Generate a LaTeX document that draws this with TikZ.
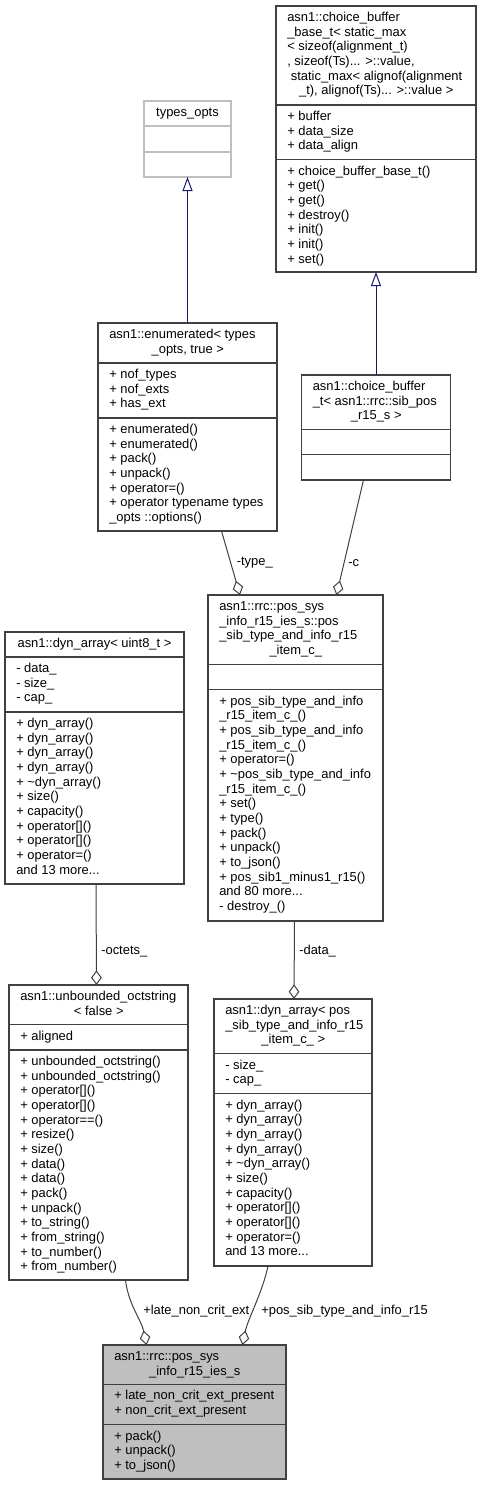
\documentclass[tikz,border=0pt]{standalone}
\usepackage{fontspec}
\setmainfont{Liberation Sans}
\usetikzlibrary{arrows.meta}

\definecolor{edgegray}{RGB}{64,64,64}
\definecolor{palegray}{RGB}{191,191,191}
\definecolor{inhblue}{RGB}{25,25,112}

\tikzset{
  every node/.style={font=\fontsize{9.7}{11}\selectfont},
  cls/.style={draw=edgegray, line width=0.8pt, fill=white, inner sep=0pt, outer sep=0pt},
  memb/.style={anchor=north west, inner sep=0pt, align=left},
  clsname/.style={anchor=north, inner sep=0pt},
  sep/.style={draw=edgegray, line width=0.8pt},
  inherit/.style={draw=inhblue, line width=0.75pt, -{Triangle[open,length=10.5pt,width=7.5pt]}},
  aggr/.style={draw=edgegray, line width=0.75pt, -{Diamond[open,length=11pt,width=8pt]}},
  lbl/.style={anchor=west, inner sep=0pt},
}

\begin{document}
\begin{tikzpicture}[x=0.75pt,y=0.75pt,yscale=-1,xscale=1]
   	\useasboundingbox (0,0) rectangle (481,1485);
   	
   	% types_opts
   	\node[cls, draw=palegray, minimum width=65.25pt, minimum height=57pt] (topts) at (187.5,139) {};
   	\draw[sep, draw=palegray] (144,126) -- (231,126);
   	\draw[sep, draw=palegray] (144,152) -- (231,152);
   	\node[clsname] (toptsT) at (187.5,106) {\strut types\_opts};
   	
   	% choice_buffer_base_t
   	\node[cls, minimum width=150pt, minimum height=199.5pt] (cbb) at (376,139) {};
   	\draw[sep] (276,105) -- (476,105);
   	\draw[sep] (276,159.7) -- (476,159.7);
   	\node[memb] (cbbT) at (287,11) {\strut asn1::choice\_buffer\\\_base\_t< static\_max\\< sizeof(alignment\_t)\\, sizeof(Ts)... >::value,\\~static\_max< alignof(alignment\\\makebox[133.5pt]{\_t), alignof(Ts)... >::value >}};
   	\node[memb] (cbbA) at (287,110) {\strut + buffer\\+ data\_size\\+ data\_align};
   	\node[memb] (cbbM) at (287,164.7) {\strut + choice\_buffer\_base\_t()\\+ get()\\+ get()\\+ destroy()\\+ init()\\+ init()\\+ set()};
   	
   	% enumerated
   	\node[cls, minimum width=134.25pt, minimum height=156pt] (enm) at (187.5,427) {};
   	\draw[sep] (98,363) -- (277,363);
   	\draw[sep] (98,418) -- (277,418);
   	\node[memb] (enmT) at (109,328) {\strut asn1::enumerated< types\\\makebox[117.75pt]{\_opts, true >}};
   	\node[memb] (enmA) at (109,368) {\strut + nof\_types\\+ nof\_exts\\+ has\_ext};
   	\node[memb] (enmM) at (109,423) {\strut + enumerated()\\+ enumerated()\\+ pack()\\+ unpack()\\+ operator=()\\+ operator typename types\\\_opts ::options()};
   	
   	% choice_buffer_t
   	\node[cls, minimum width=111.75pt, minimum height=78.75pt] (cbt) at (376,427.5) {};
   	\draw[sep] (301.5,429.3) -- (450.5,429.3);
   	\draw[sep] (301.5,454.7) -- (450.5,454.7);
   	\node[memb] (cbtT) at (312.5,380) {\strut asn1::choice\_buffer\\\_t< asn1::rrc::sib\_pos\\\makebox[95.25pt]{\_r15\_s >}};
   	
   	% pos_sib_type_and_info_r15_item_c_
   	\node[cls, minimum width=131.25pt, minimum height=244.5pt] (item) at (295.5,758) {};
   	\draw[sep] (208,664.7) -- (383,664.7);
   	\draw[sep] (208,689.7) -- (383,689.7);
   	\node[memb] (itemT) at (219,600) {\strut asn1::rrc::pos\_sys\\\_info\_r15\_ies\_s::pos\\\_sib\_type\_and\_info\_r15\\\makebox[114.75pt]{\_item\_c\_}};
   	\node[memb] (itemM) at (219,694.7) {\strut + pos\_sib\_type\_and\_info\\\_r15\_item\_c\_()\\+ pos\_sib\_type\_and\_info\\\_r15\_item\_c\_()\\+ operator=()\\+ \textasciitilde pos\_sib\_type\_and\_info\\\_r15\_item\_c\_()\\+ set()\\+ type()\\+ pack()\\+ unpack()\\+ to\_json()\\+ pos\_sib1\_minus1\_r15()\\and 80 more...\\- destroy\_()};
   	
   	% dyn_array< uint8_t >
   	\node[cls, minimum width=134.25pt, minimum height=189pt] (dynu) at (94.5,758) {};
   	\draw[sep] (5,657) -- (184,657);
   	\draw[sep] (5,712) -- (184,712);
   	\node[clsname] (dynuT) at (94.5,637) {\strut asn1::dyn\_array< uint8\_t >};
   	\node[memb] (dynuA) at (16,662) {\strut - data\_\\- size\_\\- cap\_};
   	\node[memb] (dynuM) at (16,717) {\strut + dyn\_array()\\+ dyn\_array()\\+ dyn\_array()\\+ dyn\_array()\\+ \textasciitilde dyn\_array()\\+ size()\\+ capacity()\\+ operator[]()\\+ operator[]()\\+ operator=()\\and 13 more...};
   	
   	% unbounded_octstring
   	\node[cls, minimum width=134.25pt, minimum height=221.25pt] (oct) at (98.5,1132.5) {};
   	\draw[sep] (9,1024.7) -- (188,1024.7);
   	\draw[sep] (9,1050) -- (188,1050);
   	\node[memb] (octT) at (20,990) {\strut asn1::unbounded\_octstring\\\makebox[117.75pt]{< false >}};
   	\node[memb] (octA) at (20,1029.7) {\strut + aligned};
   	\node[memb] (octM) at (20,1055) {\strut + unbounded\_octstring()\\+ unbounded\_octstring()\\+ operator[]()\\+ operator[]()\\+ operator==()\\+ resize()\\+ size()\\+ data()\\+ data()\\+ pack()\\+ unpack()\\+ to\_string()\\+ from\_string()\\+ to\_number()\\+ from\_number()};
   	
   	% dyn_array< pos_sib_type_and_info_r15_item_c_ >
   	\node[cls, minimum width=118.5pt, minimum height=200.25pt] (dynp) at (293,1132.5) {};
   	\draw[sep] (214,1053.7) -- (372,1053.7);
   	\draw[sep] (214,1093.7) -- (372,1093.7);
   	\node[memb] (dynpT) at (225,1004) {\strut asn1::dyn\_array< pos\\\_sib\_type\_and\_info\_r15\\\makebox[102pt]{\_item\_c\_ >}};
   	\node[memb] (dynpA) at (225,1058.7) {\strut - size\_\\- cap\_};
   	\node[memb] (dynpM) at (225,1098.7) {\strut + dyn\_array()\\+ dyn\_array()\\+ dyn\_array()\\+ dyn\_array()\\+ \textasciitilde dyn\_array()\\+ size()\\+ capacity()\\+ operator[]()\\+ operator[]()\\+ operator=()\\and 13 more...};
   	
   	% pos_sys_info_r15_ies_s
   	\node[cls, fill=palegray, minimum width=137.25pt, minimum height=100.5pt] (main) at (194.5,1412) {};
   	\draw[sep] (103,1384.3) -- (286,1384.3);
   	\draw[sep] (103,1424.7) -- (286,1424.7);
   	\node[memb] (mainT) at (114,1350) {\strut asn1::rrc::pos\_sys\\\makebox[120.75pt]{\_info\_r15\_ies\_s}};
   	\node[memb] (mainA) at (114,1389.3) {\strut + late\_non\_crit\_ext\_present\\+ non\_crit\_ext\_present};
   	\node[memb] (mainM) at (114,1429.7) {\strut + pack()\\+ unpack()\\+ to\_json()};
   	
   	% edges
   	\draw[inherit] (enm.north) -- (topts.south);
   	\draw[inherit] (cbt.north) -- (cbb.south);
   	\draw[aggr] ([shift={(34,0)}]enm.south) -- ([shift={(-55.5,0)}]item.north);
   	\draw[aggr] ([shift={(-12.5,0)}]cbt.south) -- ([shift={(41,0)}]item.north);
   	\draw[aggr] ([shift={(1.5,0)}]dynu.south) -- ([shift={(-2,0)}]oct.north);
   	\draw[aggr] ([shift={(-1,0)}]item.south) -- ([shift={(1,0)}]dynp.north);
   	\draw[aggr] ([shift={(27,0)}]oct.south) .. controls +(3,25) and +(-5,-25) .. ([shift={(-48,0)}]main.north);
   	\draw[aggr] ([shift={(-25,0)}]dynp.south) .. controls +(-5,25) and +(5,-25) .. ([shift={(48,0)}]main.north);
   	
   	\node[lbl] (ltype) at (236.5,563) {-type\_};
   	\node[lbl] (lc) at (348,563) {-c};
   	\node[lbl] (loct) at (101,951.5) {-octets\_};
   	\node[lbl] (ldata) at (299,951.5) {-data\_};
   	\node[lbl] (llate) at (143,1311.5) {+late\_non\_crit\_ext};
   	\node[lbl] (lpos) at (261,1311.5) {+pos\_sib\_type\_and\_info\_r15};
   	
\end{tikzpicture}
\end{document}
